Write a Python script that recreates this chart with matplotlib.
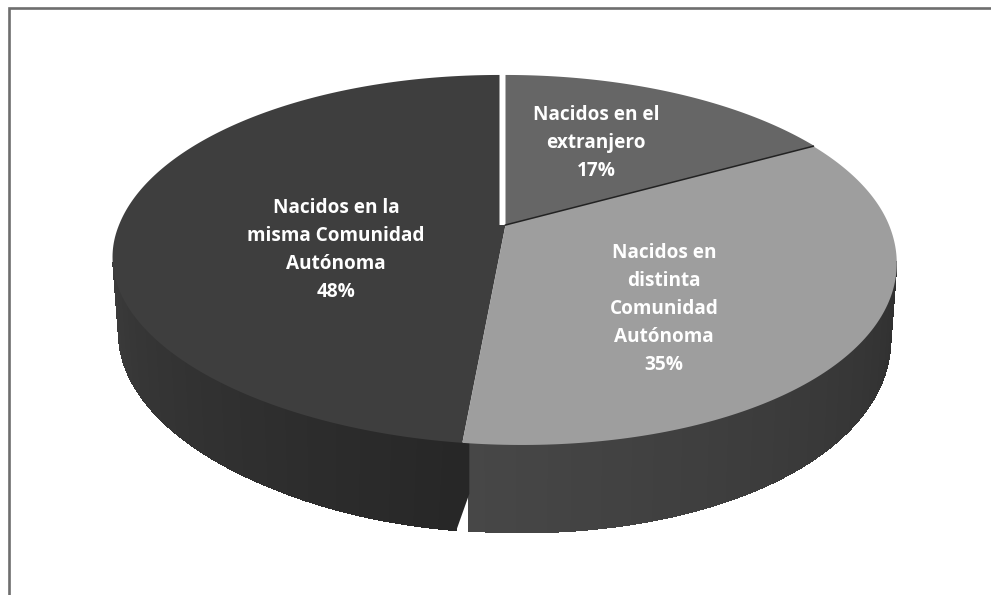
import matplotlib
matplotlib.use("Agg")
import matplotlib.pyplot as plt
import numpy as np
from matplotlib.colors import to_rgb
from matplotlib.patches import Polygon

# slices run clockwise from 12 o'clock
shares = [17, 35, 48]
labels = [
    "Nacidos en el\nextranjero\n17%",
    "Nacidos en\ndistinta\nComunidad\nAutónoma\n35%",
    "Nacidos en la\nmisma Comunidad\nAutónoma\n48%",
]
top_colors = ["#666666", "#9e9e9e", "#3e3e3e"]
label_xy = [(596, 143), (664, 309), (336, 250)]

W, H = 991, 595

# projected pie geometry, in pixels of the picture
APEX_X, APEX_Y = 504, 225
RX, RY = 385, 178.4
K = 0.189
SKEW = 18
DROP = 74
RIGHT_SHIFT = 1.5
LEFT_SHIFT = -4.5


def project(theta, drop=0.0, shrink=1.0):
    # circle seen in perspective: far side is squeezed by K, near side leans right
    x = np.sin(theta)
    y = np.cos(theta)
    w = 1 + K * y
    sx = APEX_X + RX * shrink * x / w + SKEW * np.minimum(y, 0) ** 2
    sy = APEX_Y - RY * shrink * y / w + drop / w
    return np.column_stack([sx, sy])


def add_wall(ax, t0, t1, color0, color1, edge_cut=False):
    t = np.linspace(t0, t1, 90)
    upper = project(t)
    lower = project(t, DROP, 0.985)
    if edge_cut:
        lower[:, 0] -= 7 * np.clip(1 - (t - t0) / 0.45, 0, 1)
    c0, c1 = np.array(to_rgb(color0)), np.array(to_rgb(color1))

    # solid base first, otherwise the seams of the shading strip show through
    outline = np.vstack([upper, lower[::-1]])
    ax.add_patch(Polygon(outline, fc=(c0 + c1) / 2, lw=0, zorder=2))
    for i in range(len(t) - 1):
        f = i / (len(t) - 2)
        quad = [upper[i], upper[i + 1], lower[i + 1], lower[i]]
        ax.add_patch(Polygon(quad, fc=c0 + (c1 - c0) * f, lw=0, antialiased=False, zorder=2))
    if edge_cut:
        # split only opens near the bottom of the wall
        mid = upper[0] + (lower[0] - upper[0]) * 0.58
        mid[0] = upper[0][0] + 7
        ax.add_patch(Polygon([upper[0] + [7, 0], mid, lower[0], upper[3]], fc=c0, lw=0, zorder=2))


def main():
    fig = plt.figure(figsize=(W / 100, H / 100), dpi=100, facecolor="white")
    ax = fig.add_axes([0, 0, 1, 1])
    ax.set_xlim(0, W)
    ax.set_ylim(H, 0)
    ax.axis("off")

    # only top and left of the frame survive in the scan
    ax.plot([9, 9, W], [H, 8, 8], color="#6e6e6e", lw=1.9, solid_joinstyle="miter", zorder=1)

    edges = 2 * np.pi * np.cumsum([0] + shares) / sum(shares)

    add_wall(ax, np.pi / 2 + 0.2, edges[2] - 0.012, "#2f2f2f", "#474747")
    add_wall(ax, edges[2], 3 * np.pi / 2 - 0.2, "#272727", "#3b3b3b", edge_cut=True)

    # left slice: gap to the slice on its right only in the upper quadrant
    t = np.linspace(edges[2], edges[3], 200)
    rim = project(t)
    rim[:, 0] += LEFT_SHIFT * np.clip((t - 3 * np.pi / 2) / (np.pi / 2), 0, 1)
    corner = [[APEX_X + LEFT_SHIFT, APEX_Y], [APEX_X + RIGHT_SHIFT, APEX_Y]]
    ax.add_patch(Polygon(np.vstack([rim, corner]), fc=top_colors[2], lw=0, zorder=3))

    # right slices
    for i in range(2):
        rim = project(np.linspace(edges[i], edges[i + 1], 150))
        rim[:, 0] += RIGHT_SHIFT * (i == 0)
        pts = np.vstack([[[APEX_X + RIGHT_SHIFT, APEX_Y]], rim])
        ax.add_patch(Polygon(pts, fc=top_colors[i], lw=0, zorder=3))

    # thin dark line between the two right-hand slices
    end = project(np.array([edges[1]]))[0]
    ax.plot([APEX_X + RIGHT_SHIFT, end[0]], [APEX_Y, end[1]], color="#222222", lw=1.1, zorder=4)

    for (x, y), text in zip(label_xy, labels):
        ax.text(x, y, text, color="white", fontsize=13.7, fontweight="bold", family="Open Sans",
                ha="center", va="center", linespacing=1.53, zorder=5)

    fig.savefig("out.png", dpi=100)


main()
